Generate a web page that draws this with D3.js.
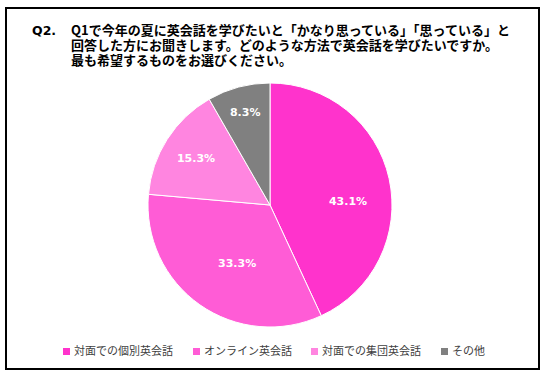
<!DOCTYPE html>
<html>
<head>
<meta charset="utf-8">
<script src="https://cdn.jsdelivr.net/npm/d3@7"></script>
<style>
  body { margin: 0; background: #fff; }
  svg { display: block; }
</style>
</head>
<body>
<div id="chart"></div>
<script>
var categories = ["対面での個別英会話", "オンライン英会話", "対面での集団英会話", "その他"];
var values = [43.1, 33.3, 15.3, 8.3];
var colors = ["#ff33cc", "#ff5cd6", "#ff85e0", "#808080"];
var titleLines = [
    "Q1で今年の夏に英会話を学びたいと「かなり思っている」「思っている」と",
    "回答した方にお聞きします。どのような方法で英会話を学びたいですか。",
    "最も希望するものをお選びください。"
];

function init()
{
    const width = 547;
    const height = 376;
    const cx = 270, cy = 205, radius = 122;

    var svg = d3.select("#chart")
        .append("svg")
        .attr("width", width)
        .attr("height", height);

    svg.append("rect")
        .attr("x", 6)
        .attr("y", 8)
        .attr("width", 533)
        .attr("height", 361)
        .attr("fill", "#fff")
        .attr("stroke", "#000")
        .attr("stroke-width", 2);

    // title: one text block, one tspan per line
    var jp = "'Noto Sans CJK JP', sans-serif";
    svg.append("text")
        .attr("x", 32)
        .attr("y", 35)
        .attr("font-family", "Verdana, 'DejaVu Sans', sans-serif")
        .attr("font-weight", "bold")
        .attr("font-size", 12.5)
        .attr("fill", "#000")
        .text("Q2.");

    var title = svg.append("text")
        .attr("font-family", jp)
        .attr("font-weight", "bold")
        .attr("font-size", 13)
        .attr("fill", "#000");

    title.selectAll("tspan")
        .data(titleLines)
        .enter()
        .append("tspan")
        .attr("x", 71)
        .attr("y", function(d, i) { return 35 + i * 15; })
        .text(function(d) { return d; });

    var pie = d3.pie().sort(null);
    var arc = d3.arc().innerRadius(0).outerRadius(radius);

    var g = svg.append("g")
        .attr("transform", "translate(" + cx + "," + cy + ")");

    var arcs = g.selectAll("g.arc")
        .data(pie(values))
        .enter()
        .append("g")
        .attr("class", "arc");

    arcs.append("path")
        .attr("d", arc)
        .attr("fill", function(d, i) { return colors[i]; })
        .attr("stroke", "#fff")
        .attr("stroke-width", 1);

    // label placement (fraction of radius, angle nudge in radians)
    var labelR = [0.64, 0.55, 0.72, 0.79];
    var labelA = [0.17, -0.1, 0, 0];

    arcs.append("text")
        .attr("transform", function(d, i) {
            var a = (d.startAngle + d.endAngle) / 2 + labelA[i];
            var r = radius * labelR[i];
            return "translate(" + (Math.sin(a) * r) + "," + (-Math.cos(a) * r) + ")";
        })
        .attr("text-anchor", "middle")
        .attr("dy", "0.36em")
        .attr("font-family", "Verdana, 'DejaVu Sans', sans-serif")
        .attr("font-weight", "bold")
        .attr("font-size", 11)
        .attr("fill", "#fff")
        .text(function(d) { return d.value.toFixed(1) + "%"; });

    // legend
    var legendX = [63, 193, 311, 441];
    var legend = svg.selectAll("g.legend")
        .data(categories)
        .enter()
        .append("g")
        .attr("class", "legend")
        .attr("transform", function(d, i) { return "translate(" + legendX[i] + ",351)"; });

    legend.append("rect")
        .attr("x", 0)
        .attr("y", -3)
        .attr("width", 7)
        .attr("height", 7)
        .attr("fill", function(d, i) { return colors[i]; });

    legend.append("text")
        .attr("x", 11)
        .attr("y", 0)
        .attr("dy", "0.36em")
        .attr("font-family", jp)
        .attr("font-size", 11)
        .attr("fill", "#404040")
        .text(function(d) { return d; });
}

init();
</script>
</body>
</html>
